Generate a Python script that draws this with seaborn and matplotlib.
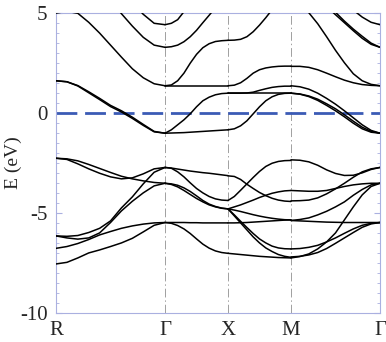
import numpy as np
import pandas as pd
import matplotlib
matplotlib.use('Agg')
import matplotlib.pyplot as plt
from matplotlib.ticker import MultipleLocator
import seaborn as sns

nan = np.nan

# high symmetry points along the simple cubic path R-G-X-M-G (units of pi/a)
K_LABELS = ['R', 'Γ', 'X', 'M', 'Γ']
K_POINTS = [0.0, 1.732, 2.732, 3.732, 5.146]

# band energies (eV), 11 samples per segment
R_G = [
    [4.98, 5.07, 4.97, 4.52, 3.98, 3.38, 2.78, 2.2, 1.75, 1.45, 1.35],
    [nan, nan, nan, nan, nan, 5.6, 4.95, 4.33, 3.77, 3.38, 3.27],
    [nan, nan, nan, nan, nan, nan, nan, 5.5, 4.92, 4.47, 4.4],
    [1.6, 1.55, 1.36, 1.05, 0.72, 0.37, 0.1, -0.22, -0.58, -0.93, -1.02],
    [1.6, 1.55, 1.34, 1.0, 0.66, 0.31, 0.04, -0.28, -0.63, -0.95, -1.02],
    [-2.27, -2.3, -2.4, -2.58, -2.78, -2.98, -3.17, -3.3, -3.4, -3.48, -3.52],
    [-2.27, -2.33, -2.55, -2.8, -3.02, -3.2, -3.3, -3.25, -3.05, -2.8, -2.73],
    [-6.15, -6.17, -6.13, -5.98, -5.77, -5.4, -4.75, -4.2, -3.55, -2.97, -2.73],
    [-6.15, -6.25, -6.31, -6.25, -6.0, -5.48, -4.9, -4.42, -4.0, -3.65, -3.52],
    [-6.77, -6.68, -6.53, -6.33, -6.1, -5.93, -5.77, -5.65, -5.56, -5.5, -5.48],
    [-7.55, -7.47, -7.25, -7.0, -6.85, -6.68, -6.5, -6.27, -5.95, -5.62, -5.48],
]

G_X = [
    [4.4, 4.47, 4.65, 5.05, 5.6, nan, nan, nan, nan, nan, nan],
    [3.27, 3.3, 3.38, 3.55, 3.8, 4.12, 4.5, 4.87, 5.25, 5.6, nan],
    [1.35, 1.39, 1.6, 1.98, 2.48, 2.92, 3.25, 3.45, 3.56, 3.6, 3.62],
    [1.35, 1.35, 1.35, 1.35, 1.35, 1.35, 1.35, 1.35, 1.35, 1.35, 1.35],
    [-1.02, -0.85, -0.6, -0.35, -0.05, 0.3, 0.6, 0.78, 0.9, 0.96, 0.98],
    [-1.02, -1.01, -1.0, -0.99, -0.97, -0.95, -0.93, -0.91, -0.89, -0.87, -0.85],
    [-2.73, -2.76, -2.81, -2.86, -2.91, -2.95, -2.99, -3.02, -3.06, -3.1, -3.14],
    [-2.73, -2.77, -2.95, -3.2, -3.5, -3.78, -4.0, -4.18, -4.3, -4.36, -4.38],
    [-3.52, -3.58, -3.7, -3.88, -4.08, -4.28, -4.45, -4.6, -4.7, -4.77, -4.8],
    [-3.52, -3.55, -3.62, -3.75, -3.93, -4.15, -4.38, -4.56, -4.68, -4.76, -4.8],
    [-5.48, -5.48, -5.48, -5.48, -5.49, -5.49, -5.5, -5.5, -5.5, -5.5, -5.5],
    [-5.48, -5.52, -5.63, -5.8, -6.03, -6.3, -6.56, -6.76, -6.9, -6.98, -7.02],
]

X_M = [
    [3.62, 3.63, 3.67, 3.8, 4.05, 4.38, 4.75, 5.15, 5.6, nan, nan],
    [1.35, 1.38, 1.5, 1.72, 1.98, 2.15, 2.24, 2.29, 2.32, 2.33, 2.33],
    [0.98, 0.98, 0.98, 0.99, 1.03, 1.12, 1.2, 1.27, 1.31, 1.33, 1.33],
    [0.98, 0.98, 0.98, 0.98, 0.98, 0.98, 0.98, 0.98, 0.98, 0.98, 0.98],
    [-0.85, -0.8, -0.65, -0.4, -0.05, 0.3, 0.6, 0.8, 0.92, 0.97, 0.98],
    [-3.15, -3.18, -3.33, -3.57, -3.78, -3.98, -4.14, -4.27, -4.36, -4.41, -4.43],
    [-4.38, -4.18, -3.87, -3.55, -3.23, -2.93, -2.68, -2.52, -2.43, -2.39, -2.38],
    [-4.8, -4.7, -4.6, -4.48, -4.36, -4.23, -4.12, -4.02, -3.95, -3.9, -3.88],
    [-4.8, -4.86, -4.93, -5.01, -5.09, -5.16, -5.22, -5.27, -5.31, -5.34, -5.35],
    [-5.5, -5.5, -5.49, -5.48, -5.46, -5.44, -5.42, -5.4, -5.38, -5.36, -5.35],
    [-4.8, -5.1, -5.42, -5.73, -6.03, -6.3, -6.5, -6.66, -6.75, -6.79, -6.8],
    [-4.8, -5.15, -5.5, -5.85, -6.2, -6.5, -6.75, -6.93, -7.08, -7.17, -7.22],
    [-7.02, -7.05, -7.08, -7.11, -7.14, -7.17, -7.19, -7.21, -7.23, -7.24, -7.25],
]

M_G = [
    [nan, 5.6, 5.0, 4.45, 3.8, 3.12, 2.5, 1.95, 1.6, 1.42, 1.35],
    [nan, nan, nan, nan, 5.3, 4.9, 4.5, 4.1, 3.72, 3.42, 3.27],
    [nan, nan, nan, nan, 5.45, 5.02, 4.58, 4.18, 3.82, 3.48, 3.27],
    [nan, nan, nan, nan, nan, nan, 5.6, 5.13, 4.78, 4.52, 4.4],
    [2.32, 2.32, 2.27, 2.15, 1.98, 1.8, 1.63, 1.5, 1.41, 1.37, 1.35],
    [1.35, 1.3, 1.18, 0.98, 0.72, 0.43, 0.1, -0.25, -0.6, -0.88, -1.02],
    [0.98, 0.94, 0.84, 0.68, 0.45, 0.2, -0.1, -0.42, -0.72, -0.93, -1.02],
    [0.98, 0.93, 0.81, 0.62, 0.37, 0.1, -0.2, -0.52, -0.8, -0.97, -1.02],
    [-2.35, -2.37, -2.45, -2.62, -2.85, -3.03, -3.13, -3.12, -3.0, -2.83, -2.73],
    [-3.88, -3.9, -3.92, -3.92, -3.88, -3.78, -3.68, -3.6, -3.55, -3.52, -3.52],
    [-4.4, -4.39, -4.36, -4.25, -4.05, -3.8, -3.52, -3.22, -2.95, -2.8, -2.73],
    [-5.38, -5.33, -5.25, -5.1, -4.92, -4.7, -4.45, -4.12, -3.83, -3.6, -3.52],
    [-5.38, -5.4, -5.42, -5.44, -5.46, -5.47, -5.48, -5.48, -5.48, -5.48, -5.48],
    [-6.8, -6.78, -6.72, -6.62, -6.45, -6.25, -6.02, -5.8, -5.62, -5.52, -5.48],
    [-7.2, -7.17, -7.1, -6.98, -6.78, -6.52, -6.25, -5.98, -5.72, -5.55, -5.48],
    [-7.25, -7.18, -7.05, -6.8, -6.45, -6.0, -5.35, -4.7, -4.1, -3.68, -3.52],
]

SEGMENTS = [R_G, G_X, X_M, M_G]

# long-form table: one "unit" per band piece
rows = []
for s, bands in enumerate(SEGMENTS):
    k = np.linspace(K_POINTS[s], K_POINTS[s + 1], len(bands[0]))
    for b, e in enumerate(bands):
        for kk, ee in zip(k, e):
            rows.append({'k': kk, 'E': ee, 'band': f'{s}-{b}'})
df = pd.DataFrame(rows).dropna()

sns.set_style("white")
plt.rcParams['font.family'] = ['Liberation Serif', 'DejaVu Serif']
plt.rcParams['axes.unicode_minus'] = False

frame = '#aab0e0'

fig = plt.figure(figsize=(3.86, 3.42), dpi=100)
ax = fig.add_axes([0.1451, 0.0848, 0.8394, 0.8781])

for kp in K_POINTS[1:-1]:
    ax.axvline(kp, color='#a0a0a0', lw=0.7, ls=(0, (9, 3, 1.5, 3)), zorder=1)
ax.axhline(0, color='#3b5bb5', lw=2, dashes=(7.5, 2.8), zorder=2)

sns.lineplot(data=df, x='k', y='E', units='band', estimator=None, sort=False,
             color='black', lw=1.1, ax=ax, zorder=3)

ax.set_xlim(K_POINTS[0], K_POINTS[-1])
ax.set_ylim(-10, 5)
ax.set_xticks(K_POINTS)
ax.set_xticklabels(K_LABELS, fontsize=15)
ax.set_yticks([-10, -5, 0, 5])
ax.yaxis.set_minor_locator(MultipleLocator(0.5))
ax.tick_params(axis='y', which='both', direction='in', left=True, right=True,
               color=frame, labelsize=15, pad=6)
ax.tick_params(axis='y', which='major', length=4)
ax.tick_params(axis='y', which='minor', length=2.5)
ax.tick_params(axis='x', length=0, pad=6)
ax.set_xlabel('')
ax.set_ylabel('E (eV)', fontsize=14)
ax.yaxis.set_label_coords(-0.105, 0.5)
for sp in ax.spines.values():
    sp.set_color(frame)
    sp.set_linewidth(0.8)

fig.savefig('out.png', dpi=100)
